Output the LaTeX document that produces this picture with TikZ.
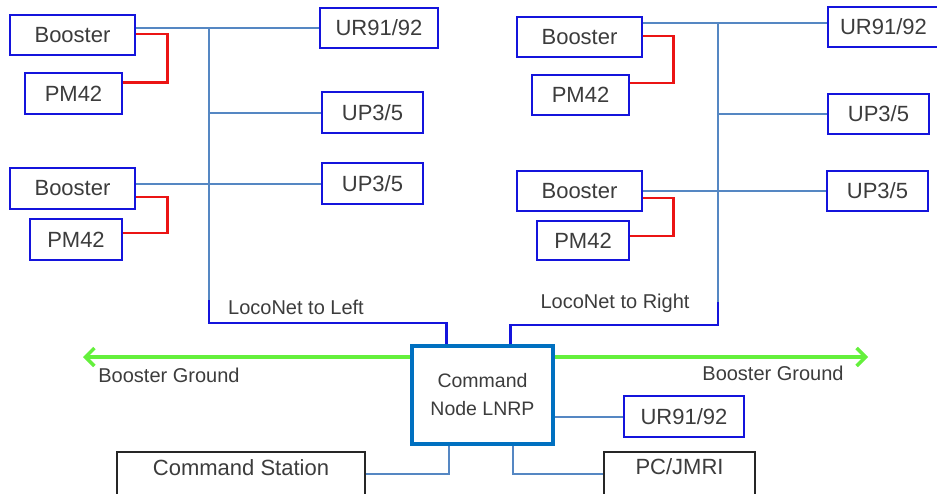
\documentclass[tikz,border=0pt]{standalone}
\usepackage{fontspec}
\setmainfont{Liberation Sans}
\usetikzlibrary{arrows.meta,calc}
\definecolor{boxblue}{RGB}{20,20,220}
\definecolor{busblue}{RGB}{85,135,195}
\definecolor{nodeblue}{RGB}{0,112,192}
\definecolor{wirered}{RGB}{235,20,20}
\definecolor{gnd}{RGB}{100,240,60}
\definecolor{txtgray}{RGB}{60,60,60}
\begin{document}
\begin{tikzpicture}[x=1pt,y=-1pt,
 every node/.style={inner sep=0pt, text=txtgray},
 bluebox/.style={draw=boxblue, line width=2.8pt, fill=white, font=\fontsize{22}{24}\selectfont},
 blackbox/.style={draw=black!85, line width=2.8pt, fill=white},
 bus/.style={draw=busblue, line width=2pt},
 lnet/.style={draw=boxblue, line width=2.5pt},
 redwire/.style={draw=wirered, line width=2.8pt},
 gndarrow/.style={draw=gnd, line width=3.5pt, -{Straight Barb[length=9pt,width=18pt]}},
 lbl/.style={font=\fontsize{20}{22}\selectfont},
 bigtxt/.style={font=\fontsize{22}{24}\selectfont}]
\useasboundingbox (0,0) rectangle (937,493);
\clip (0,0) rectangle (937,493);

% left group
\node[bluebox, minimum width=125pt, minimum height=40pt] (b1) at (72.5,35) {Booster};
\node[bluebox, minimum width=97pt, minimum height=41pt] (p1) at (73.5,93.5) {PM42};
\node[bluebox, minimum width=125pt, minimum height=41pt] (b2) at (72.5,188.5) {Booster};
\node[bluebox, minimum width=92pt, minimum height=41pt] (p2) at (76,239.5) {PM42};
\node[bluebox, minimum width=118pt, minimum height=40pt] (ur1) at (379,28) {UR91/92};
\node[bluebox, minimum width=101pt, minimum height=41pt] (up1) at (372.5,112.5) {UP3/5};
\node[bluebox, minimum width=101pt, minimum height=41pt] (up2) at (372.5,183.5) {UP3/5};

% right group
\node[bluebox, minimum width=125pt, minimum height=40pt] (b3) at (579.5,37) {Booster};
\node[bluebox, minimum width=97pt, minimum height=40pt] (p3) at (580.5,95) {PM42};
\node[bluebox, minimum width=125pt, minimum height=40pt] (b4) at (579.5,191) {Booster};
\node[bluebox, minimum width=92pt, minimum height=39pt] (p4) at (583,240.5) {PM42};
\node[bluebox, minimum width=111pt, minimum height=40pt] (ur2) at (883.5,27) {UR91/92};
\node[bluebox, minimum width=101pt, minimum height=40pt] (up3) at (878.5,114) {UP3/5};
\node[bluebox, minimum width=101pt, minimum height=40pt] (up4) at (877.5,191) {UP3/5};

% bottom
\node[draw=nodeblue, line width=3.2pt, fill=white, minimum width=141pt, minimum height=98pt,
      align=center, font=\fontsize{19.5}{28}\selectfont] (cn) at (482.5,395) {Command\\Node LNRP};
\node[bluebox, minimum width=120pt, minimum height=41pt] (ur3) at (684,416.5) {UR91/92};
\node[blackbox, minimum width=248pt, minimum height=44pt] (cs) at (241,474) {};
\node[bigtxt] (cst) at (241,468) {Command Station};
\node[blackbox, minimum width=151pt, minimum height=44pt] (pc) at (679.5,474) {};
\node[bigtxt] (pct) at (679.5,467) {PC/JMRI};

% left LocoNet bus
\coordinate (lt) at (209,28);
\coordinate (lm) at (209,300);
\coordinate (lb) at (209,323);
\coordinate (cnl) at ($(cn.north west)+(36,0)$);
\draw[bus] (b1.east |- ur1.west) -- (ur1.west);
\draw[bus] (lt) -- (lm);
\draw[lnet] (lm) -- (lb) -| (cnl);
\draw[bus] (lt |- up1.west) -- (up1.west);
\draw[bus] (b2.east |- up2.west) -- (up2.west);
\draw[redwire] ($(b1.east)+(0,-1)$) -- ++(31,0) |- ($(p1.east)+(0,-11)$);
\draw[redwire] ($(b2.east)+(0,8.5)$) -- ++(31,0) |- ($(p2.east)+(0,-6.5)$);

% right LocoNet bus
\coordinate (rt) at (718,23);
\coordinate (rm) at (718,302);
\coordinate (rb) at (718,325);
\coordinate (cnr) at ($(cn.north west)+(100,0)$);
\draw[bus] ($(b3.east)+(0,-14)$) -- ($(ur2.west)+(0,-4)$);
\draw[bus] (rt) -- (rm);
\draw[lnet] (rm) -- (rb) -| (cnr);
\draw[bus] (rt |- up3.west) -- (up3.west);
\draw[bus] (b4.east) -- (up4.west);
\draw[redwire] ($(b3.east)+(0,-1)$) -- ++(30,0) |- ($(p3.east)+(0,-12)$);
\draw[redwire] ($(b4.east)+(0,7)$) -- ++(30,0) |- ($(p4.east)+(0,-4.5)$);

% labels
\node[lbl] (ltl) at (296,307) {LocoNet to Left};
\node[lbl] (ltr) at (615,303) {LocoNet to Right};
\node[lbl] (bgl) at (169,375) {Booster Ground};
\node[lbl] (bgr) at (773,373) {Booster Ground};

% booster ground arrows
\coordinate (gl) at (83,357);
\coordinate (gr) at (868,357);
\draw[gndarrow] ($(cn.west)+(0,-38)$) -- (gl);
\draw[gndarrow] ($(cn.east)+(0,-38)$) -- (gr);

% command node links
\draw[bus] (cn.east |- ur3.west) -- (ur3.west);
\draw[bus] ($(cn.south west)+(39,0)$) |- (cs.east);
\draw[bus] ($(cn.south west)+(103,0)$) |- (pc.west);
\end{tikzpicture}
\end{document}
